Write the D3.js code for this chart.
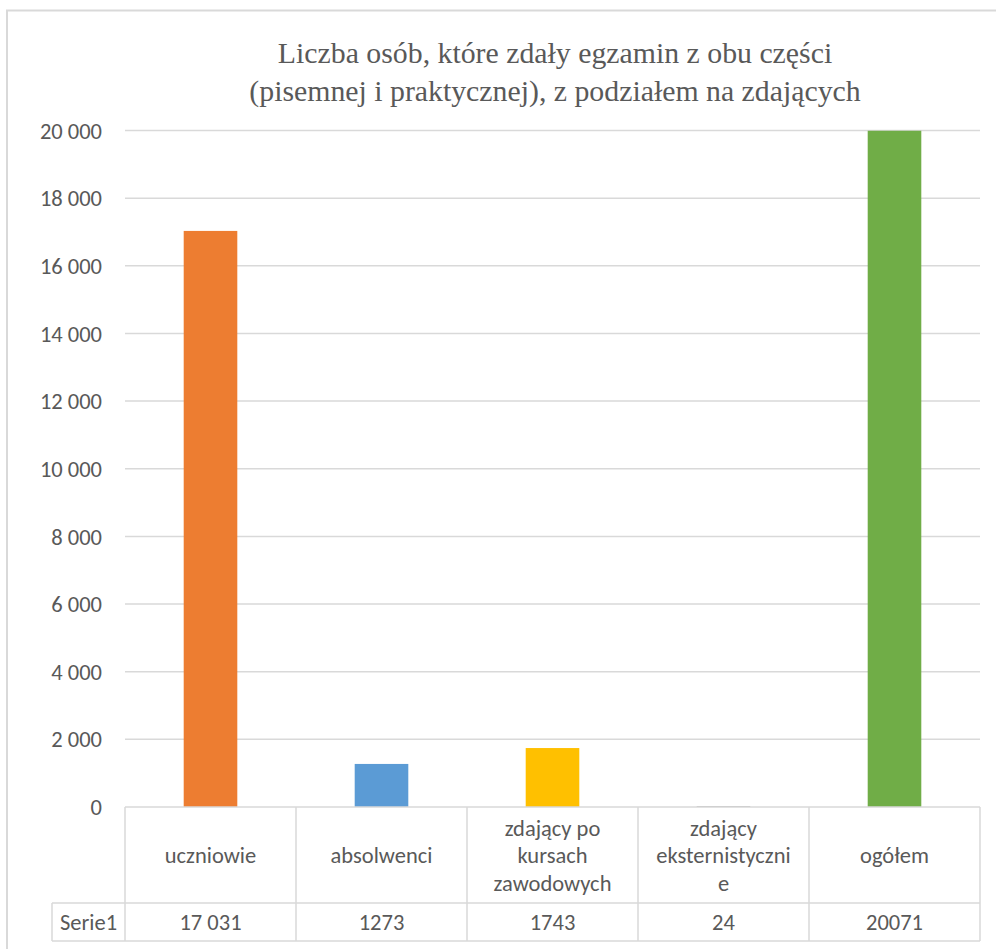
<!DOCTYPE html>
<html>
<head>
<meta charset="utf-8">
<script src="https://cdn.jsdelivr.net/npm/d3@7"></script>
<style>
  html, body { margin: 0; padding: 0; background: #fff; }
  svg { display: block; }
</style>
</head>
<body>
<svg id="chart" width="996" height="949"></svg>
<script>
// ---- data ----
const titleLines = [
  "Liczba osób, które zdały egzamin z obu części",
  "(pisemnej i praktycznej), z podziałem na zdających"
];
const categories = ["uczniowie", "absolwenci", "zdający po kursach zawodowych", "zdający eksternistyczne", "ogółem"];
const categoryLines = [
  ["uczniowie"],
  ["absolwenci"],
  ["zdający po", "kursach", "zawodowych"],
  ["zdający", "eksternistyczni", "e"],
  ["ogółem"]
];
const values = [17031, 1273, 1743, 24, 20071];
const valueLabels = ["17 031", "1273", "1743", "24", "20071"];
const seriesName = "Serie1";
const barColors = ["#ED7D31", "#5B9BD5", "#FFC000", "#A5A5A5", "#70AD47"];
const yTicks = [0, 2000, 4000, 6000, 8000, 10000, 12000, 14000, 16000, 18000, 20000];
const yMax = 20000;

// ---- layout ----
const svg = d3.select("#chart");
const W = 996, H = 949;
const plotLeft = 125, plotRight = 980;
const plotTop = 130.5, plotBottom = 807;
const headerBottom = 903, tableBottom = 941;
const serieLeft = 52;
const gridColor = "#d9d9d9";
const textColor = "#595959";
const sans = "Carlito, Calibri, Lato, 'Open Sans', sans-serif";
const fs = 22.5;

svg.append("rect").attr("width", W).attr("height", H).attr("fill", "#fff");
// outer chart border
svg.append("rect")
  .attr("x", 7).attr("y", 10.5).attr("width", W + 20).attr("height", H + 20)
  .attr("fill", "none").attr("stroke", gridColor).attr("stroke-width", 2);

const x = d3.scaleBand().domain(categories).range([plotLeft, plotRight]).padding(0);
const y = d3.scaleLinear().domain([0, yMax]).range([plotBottom, plotTop]);

// title
const title = svg.append("text")
  .attr("x", 555).attr("text-anchor", "middle")
  .attr("font-family", "'Liberation Serif', 'Times New Roman', serif")
  .attr("font-size", 29.8).attr("fill", textColor);
title.selectAll("tspan").data(titleLines).join("tspan")
  .attr("x", 555).attr("y", (d, i) => 63 + i * 38).text(d => d);

// gridlines
svg.append("g").selectAll("line").data(yTicks.filter(t => t > 0)).join("line")
  .attr("x1", plotLeft).attr("x2", plotRight)
  .attr("y1", d => y(d)).attr("y2", d => y(d))
  .attr("stroke", gridColor).attr("stroke-width", 1.5);

// y axis labels
const fmt = d => d3.format(",")(d).replace(/,/g, " ");
svg.append("g").selectAll("text").data(yTicks).join("text")
  .attr("x", 102).attr("y", d => y(d)).attr("dy", "0.36em")
  .attr("text-anchor", "end")
  .attr("font-family", sans).attr("font-size", fs).attr("fill", textColor)
  .text(fmt);

// bars
svg.append("defs").append("clipPath").attr("id", "plotclip")
  .append("rect").attr("x", plotLeft).attr("y", plotTop)
  .attr("width", plotRight - plotLeft).attr("height", plotBottom - plotTop);
const barW = x.bandwidth() / (1 + 2.19);
svg.append("g").attr("clip-path", "url(#plotclip)")
  .selectAll("rect").data(values).join("rect")
  .attr("x", (d, i) => x(categories[i]) + (x.bandwidth() - barW) / 2)
  .attr("width", barW)
  .attr("y", d => y(Math.min(d, yMax)))
  .attr("height", d => y(0) - y(Math.min(d, yMax)))
  .attr("fill", (d, i) => barColors[i]);

// data table
const tbl = svg.append("g").attr("stroke", gridColor).attr("stroke-width", 1.5).attr("fill", "none");
tbl.append("line").attr("x1", plotLeft).attr("x2", plotRight).attr("y1", plotBottom).attr("y2", plotBottom);
tbl.append("line").attr("x1", serieLeft).attr("x2", plotRight).attr("y1", headerBottom).attr("y2", headerBottom);
tbl.append("line").attr("x1", serieLeft).attr("x2", plotRight).attr("y1", tableBottom).attr("y2", tableBottom);
const colEdges = categories.map(c => x(c)).concat([plotRight]);
tbl.selectAll("line.v").data(colEdges).join("line").attr("class", "v")
  .attr("x1", d => d).attr("x2", d => d).attr("y1", plotBottom).attr("y2", tableBottom);
tbl.append("line").attr("x1", serieLeft).attr("x2", serieLeft).attr("y1", headerBottom).attr("y2", tableBottom);

// header labels
const lineH = 27.5;
const headCenter = (plotBottom + headerBottom) / 2;
const hg = svg.append("g").attr("font-family", sans).attr("font-size", fs).attr("fill", textColor).attr("text-anchor", "middle");
categoryLines.forEach((lines, i) => {
  const cx = x(categories[i]) + x.bandwidth() / 2;
  const t = hg.append("text");
  lines.forEach((ln, j) => {
    t.append("tspan").attr("x", cx)
      .attr("y", headCenter + (j - (lines.length - 1) / 2) * lineH)
      .attr("dy", "0.36em").text(ln);
  });
});

// value row
const valCenter = (headerBottom + tableBottom) / 2;
const vg = svg.append("g").attr("font-family", sans).attr("font-size", fs).attr("fill", textColor).attr("text-anchor", "middle");
vg.selectAll("text").data(valueLabels).join("text")
  .attr("x", (d, i) => x(categories[i]) + x.bandwidth() / 2)
  .attr("y", valCenter).attr("dy", "0.36em").text(d => d);
vg.append("text").attr("x", (serieLeft + plotLeft) / 2).attr("y", valCenter).attr("dy", "0.36em").text(seriesName);
</script>
</body>
</html>
